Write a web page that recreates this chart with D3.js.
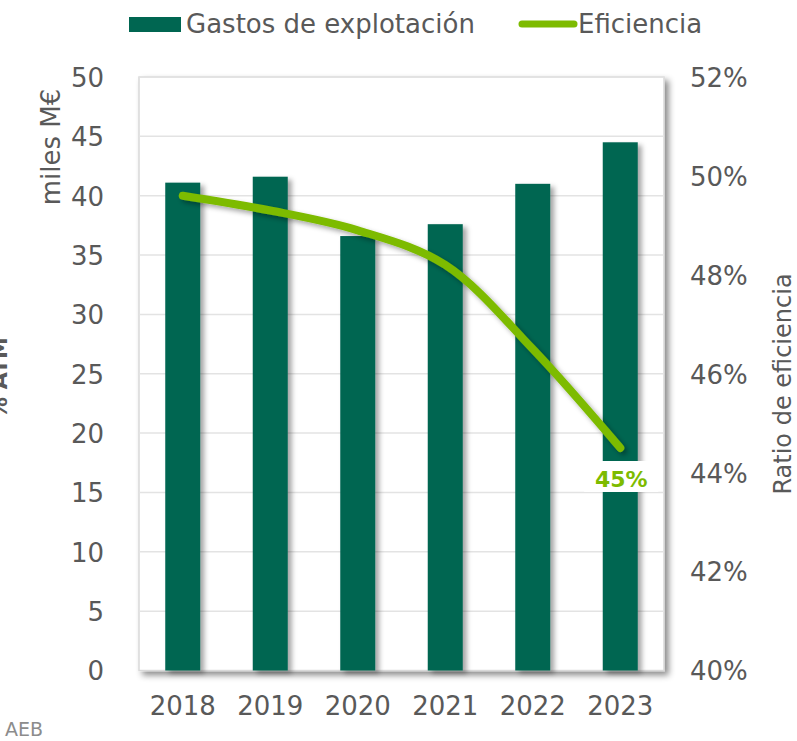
<!DOCTYPE html>
<html><head><meta charset="utf-8">
<script src="https://cdn.jsdelivr.net/npm/d3@7"></script>
<style>
html,body{margin:0;padding:0;background:#fff;}
svg{display:block;font-family:"DejaVu Sans",Verdana,sans-serif;}
</style></head>
<body><svg id="c" width="797" height="741"></svg>
<script>
const years = ["2018","2019","2020","2021","2022","2023"];
const gastos = [41.1, 41.6, 36.6, 37.6, 41.0, 44.5];
const eficiencia = [49.6, 49.3, 48.9, 48.2, 46.5, 44.5];
const leftTicks = [0,5,10,15,20,25,30,35,40,45,50];
const rightTicks = [40,42,44,46,48,50,52];
const lastLabel = "45%";

const svg = d3.select("#c");
const m = {l:139, r:664, t:77, b:670.5};
const gray = "#595959";
const barColor = "#006651";
const lineColor = "#7dbb00";

const defs = svg.append("defs");
const f1 = defs.append("filter").attr("id","frameShadow").attr("x","-5%").attr("y","-5%").attr("width","115%").attr("height","115%");
f1.append("feDropShadow").attr("dx",4).attr("dy",4).attr("stdDeviation",3).attr("flood-color","#000").attr("flood-opacity",0.45);
const f2 = defs.append("filter").attr("id","barShadow").attr("x","-20%").attr("y","-5%").attr("width","160%").attr("height","115%");
f2.append("feDropShadow").attr("dx",4).attr("dy",3).attr("stdDeviation",2.5).attr("flood-color","#000").attr("flood-opacity",0.35);
const f3 = defs.append("filter").attr("id","lineShadow").attr("x","-10%").attr("y","-10%").attr("width","130%").attr("height","130%");
f3.append("feDropShadow").attr("dx",3).attr("dy",3).attr("stdDeviation",2.5).attr("flood-color","#000").attr("flood-opacity",0.35);

const x = d3.scaleBand().domain(years).range([m.l, m.r]).paddingInner(0.6).paddingOuter(0.3);
const y = d3.scaleLinear().domain([0,50]).range([m.b, m.t]);
const y2 = d3.scaleLinear().domain([40,52]).range([m.b, m.t]);

// frame
svg.append("rect").attr("x",m.l).attr("y",m.t).attr("width",m.r-m.l).attr("height",m.b-m.t)
  .attr("fill","#fff").attr("stroke","#d9d9d9").attr("stroke-width",1.5).attr("filter","url(#frameShadow)");

// gridlines
svg.append("g").selectAll("line").data(leftTicks.filter(d=>d>0)).join("line")
  .attr("x1",m.l).attr("x2",m.r).attr("y1",d=>y(d)).attr("y2",d=>y(d))
  .attr("stroke","#e3e3e3").attr("stroke-width",1.5);

// bars
svg.append("g").selectAll("rect").data(years).join("rect")
  .attr("x",d=>x(d)).attr("width",x.bandwidth())
  .attr("y",(d,i)=>y(gastos[i])).attr("height",(d,i)=>y(0)-y(gastos[i]))
  .attr("fill",barColor).attr("filter","url(#barShadow)");

// line
const cx = d => x(d) + x.bandwidth()/2;
const line = d3.line().x((d,i)=>cx(years[i])).y(d=>y2(d)).curve(d3.curveCatmullRom.alpha(0.5));
svg.append("path").datum(eficiencia).attr("d",line).attr("fill","none")
  .attr("stroke",lineColor).attr("stroke-width",8).attr("stroke-linecap","round").attr("filter","url(#lineShadow)");

// last label
const lx = cx(years[years.length-1]);
svg.append("rect").attr("x",lx-36).attr("y",461).attr("width",74).attr("height",31).attr("fill","#fff");
svg.append("text").attr("x",lx+1).attr("y",487).attr("text-anchor","middle")
  .attr("font-size",22).attr("font-weight","bold").attr("fill",lineColor).text(lastLabel);

// left axis
const axL = d3.axisLeft(y).tickValues(leftTicks).tickSize(0).tickPadding(0);
const gL = svg.append("g").attr("transform",`translate(104,0)`).call(axL);
gL.select(".domain").remove();
gL.selectAll("text").attr("font-size",26).attr("fill",gray).attr("font-family","DejaVu Sans").attr("dy","0.36em");

// right axis
const axR = d3.axisRight(y2).tickValues(rightTicks).tickFormat(d=>d+"%").tickSize(0).tickPadding(0);
const gR = svg.append("g").attr("transform",`translate(690,0)`).call(axR);
gR.select(".domain").remove();
gR.selectAll("text").attr("font-size",26).attr("fill",gray).attr("font-family","DejaVu Sans").attr("dy","0.36em");

// x axis
const axX = d3.axisBottom(x).tickSize(0).tickPadding(0);
const gX = svg.append("g").attr("transform",`translate(0,697)`).call(axX);
gX.select(".domain").remove();
gX.selectAll("text").attr("font-size",26).attr("fill",gray).attr("font-family","DejaVu Sans").attr("dy","0.71em");

// axis titles
svg.append("text").attr("transform","translate(60,147) rotate(-90)").attr("text-anchor","middle")
  .attr("font-size",26).attr("fill",gray).text("miles M€");
svg.append("text").attr("transform","translate(791,384) rotate(-90)").attr("text-anchor","middle")
  .attr("font-size",24).attr("fill",gray).text("Ratio de eficiencia");
svg.append("text").attr("transform","translate(7,378) rotate(-90)").attr("text-anchor","middle")
  .attr("font-size",22).attr("font-weight","bold").attr("fill",gray).text("% ATM");

// legend
svg.append("rect").attr("x",129).attr("y",17).attr("width",52).attr("height",15).attr("fill",barColor);
svg.append("text").attr("x",186).attr("y",33).attr("font-size",26).attr("fill",gray).text("Gastos de explotación");
svg.append("line").attr("x1",522).attr("x2",574).attr("y1",24).attr("y2",24)
  .attr("stroke",lineColor).attr("stroke-width",7).attr("stroke-linecap","round");
svg.append("text").attr("x",578).attr("y",33).attr("font-size",26).attr("fill",gray).text("Eficiencia");

// source
svg.append("text").attr("x",5).attr("y",736).attr("font-size",19).attr("fill","#8c8c8c").text("AEB");
</script></body></html>
